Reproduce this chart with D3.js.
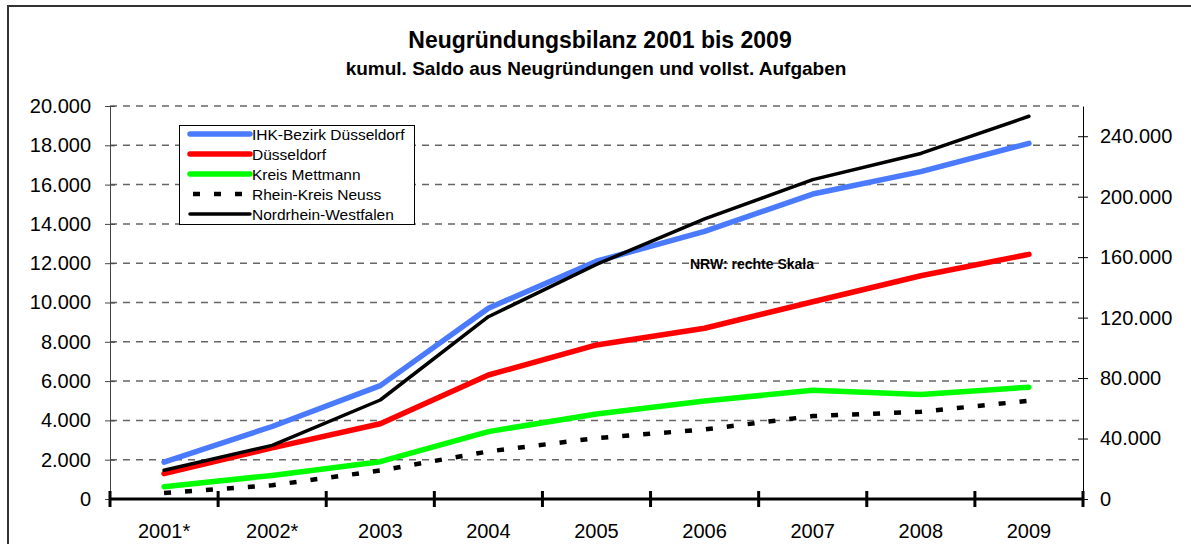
<!DOCTYPE html>
<html>
<head>
<meta charset="utf-8">
<script src="https://cdn.jsdelivr.net/npm/d3@7"></script>
<style>
  body { margin: 0; background: #fff; }
  svg { display: block; font-family: "Liberation Sans", Arial, sans-serif; }
</style>
</head>
<body>
<svg width="1191" height="544"></svg>
<script>
// data
var years = ["2001*", "2002*", "2003", "2004", "2005", "2006", "2007", "2008", "2009"];
var ihk = [1880, 3690, 5770, 9710, 12100, 13620, 15520, 16660, 18100];
var duesseldorf = [1290, 2600, 3830, 6310, 7840, 8690, 10040, 11360, 12450];
var mettmann = [620, 1200, 1900, 3430, 4330, 4990, 5530, 5320, 5690];
var neuss = [300, 700, 1450, 2420, 3100, 3540, 4220, 4440, 5000];
var nrw = [19000, 35500, 65500, 120600, 155200, 185300, 211300, 228600, 253200];
var leftTicks = d3.range(0, 20001, 2000);
var rightTicks = d3.range(0, 240001, 40000);

var svg = d3.select("svg"),
    plot = {left: 110, right: 1083, top: 106, bottom: 499};

var fmt = function(v) { return v === 0 ? "0" : d3.format(",")(v).replace(/,/g, "."); };

var x = d3.scaleBand().domain(years).range([plot.left, plot.right]).padding(0),
    yL = d3.scaleLinear().domain([0, 20000]).range([plot.bottom, plot.top]),
    yR = d3.scaleLinear().domain([0, 260000]).range([plot.bottom, plot.top]);

// outer frame (top + left edge visible)
svg.append("path")
    .attr("d", "M8,544 L8,6 L1191,6")
    .attr("fill", "none").attr("stroke", "#333").attr("stroke-width", 2);

// title
svg.append("text").attr("x", 600).attr("y", 48).attr("text-anchor", "middle")
    .attr("font-size", 23).attr("font-weight", "bold")
    .text("Neugründungsbilanz 2001 bis 2009");
svg.append("text").attr("x", 596).attr("y", 75).attr("text-anchor", "middle")
    .attr("font-size", 19).attr("font-weight", "bold")
    .text("kumul. Saldo aus Neugründungen und vollst. Aufgaben");

// gridlines
svg.append("g").selectAll("line")
    .data(leftTicks.slice(1))
    .enter().append("line")
    .attr("x1", plot.left).attr("x2", plot.right)
    .attr("y1", function(d) { return yL(d); }).attr("y2", function(d) { return yL(d); })
    .attr("stroke", "#666").attr("stroke-width", 1.5).attr("stroke-dasharray", "7,6");

// left axis
var gl = svg.append("g")
    .attr("transform", "translate(" + plot.left + ",0)")
    .call(d3.axisLeft(yL).tickValues(leftTicks).tickFormat(fmt).tickSizeInner(5).tickSizeOuter(0).tickPadding(14));
gl.select(".domain").attr("stroke", "#444");
gl.selectAll(".tick line").attr("x1", -5).attr("x2", 5).attr("stroke", "#444");
gl.selectAll("text").attr("font-size", 20).attr("font-family", "Liberation Sans, Arial, sans-serif").attr("fill", "#000");

// right axis
var gr = svg.append("g")
    .attr("transform", "translate(" + plot.right + ",0)")
    .call(d3.axisRight(yR).tickValues(rightTicks).tickFormat(fmt).tickSizeInner(5).tickSizeOuter(0).tickPadding(12));
gr.select(".domain").attr("stroke", "#000");
gr.selectAll(".tick line").attr("x1", -5).attr("x2", 5).attr("stroke", "#000");
gr.selectAll("text").attr("font-size", 20).attr("font-family", "Liberation Sans, Arial, sans-serif").attr("fill", "#000");

// x axis
var gx = svg.append("g");
gx.append("line")
    .attr("x1", plot.left).attr("x2", plot.right)
    .attr("y1", plot.bottom).attr("y2", plot.bottom)
    .attr("stroke", "#000").attr("stroke-width", 3);
var bounds = years.map(function(d) { return x(d); }).concat([plot.right]);
gx.selectAll(".xt").data(bounds).enter().append("line")
    .attr("class", "xt")
    .attr("x1", function(d) { return d; }).attr("x2", function(d) { return d; })
    .attr("y1", plot.bottom - 8).attr("y2", plot.bottom + 8)
    .attr("stroke", "#000").attr("stroke-width", 3);
gx.selectAll(".xl").data(years).enter().append("text")
    .attr("class", "xl")
    .attr("x", function(d) { return x(d) + x.bandwidth() / 2; })
    .attr("y", 538)
    .attr("text-anchor", "middle").attr("font-size", 20)
    .text(function(d) { return d; });

// note
svg.append("text").attr("x", 752).attr("y", 269).attr("text-anchor", "middle")
    .attr("font-size", 14).attr("font-weight", "bold").text("NRW: rechte Skala");

// series
var cx = function(i) { return x(years[i]) + x.bandwidth() / 2; };
var lineL = d3.line().x(function(d, i) { return cx(i); }).y(function(d) { return yL(d); });
var lineR = d3.line().x(function(d, i) { return cx(i); }).y(function(d) { return yR(d); });

var series = [
  {name: "IHK-Bezirk Düsseldorf", values: ihk, line: lineL, color: "#4a7bff", width: 5.5, dash: null},
  {name: "Düsseldorf", values: duesseldorf, line: lineL, color: "#ff0000", width: 5.5, dash: null},
  {name: "Kreis Mettmann", values: mettmann, line: lineL, color: "#00ff00", width: 5.5, dash: null},
  {name: "Rhein-Kreis Neuss", values: neuss, line: lineL, color: "#000", width: 4.5, dash: "7,14"},
  {name: "Nordrhein-Westfalen", values: nrw, line: lineR, color: "#000", width: 3.5, dash: null}
];

var drawOrder = [2, 3, 1, 0, 4];
drawOrder.forEach(function(k) {
  var s = series[k];
  svg.append("path")
      .attr("d", s.line(s.values))
      .attr("fill", "none")
      .attr("stroke", s.color)
      .attr("stroke-width", s.width)
      .attr("stroke-linecap", s.dash ? "butt" : "round")
      .attr("stroke-linejoin", "round")
      .attr("stroke-dasharray", s.dash);
});

// legend
var lg = svg.append("g");
lg.append("rect").attr("x", 179.5).attr("y", 125.5).attr("width", 235).attr("height", 99)
    .attr("fill", "#fff").attr("stroke", "#000").attr("stroke-width", 1);
var row = lg.selectAll(".row").data(series).enter().append("g")
    .attr("class", "row")
    .attr("transform", function(d, i) { return "translate(0," + (134 + i * 20) + ")"; });
row.append("line")
    .attr("x1", function(d) { return d.dash ? 193 : 190; }).attr("x2", 250)
    .attr("y1", 0).attr("y2", 0)
    .attr("stroke", function(d) { return d.color; })
    .attr("stroke-width", function(d) { return d.width; })
    .attr("stroke-linecap", function(d) { return d.dash ? "butt" : "round"; })
    .attr("stroke-dasharray", function(d) { return d.dash; });
row.append("text")
    .attr("x", 252).attr("y", 5.5)
    .attr("font-size", 15.5)
    .text(function(d) { return d.name; });
</script>
</body>
</html>
